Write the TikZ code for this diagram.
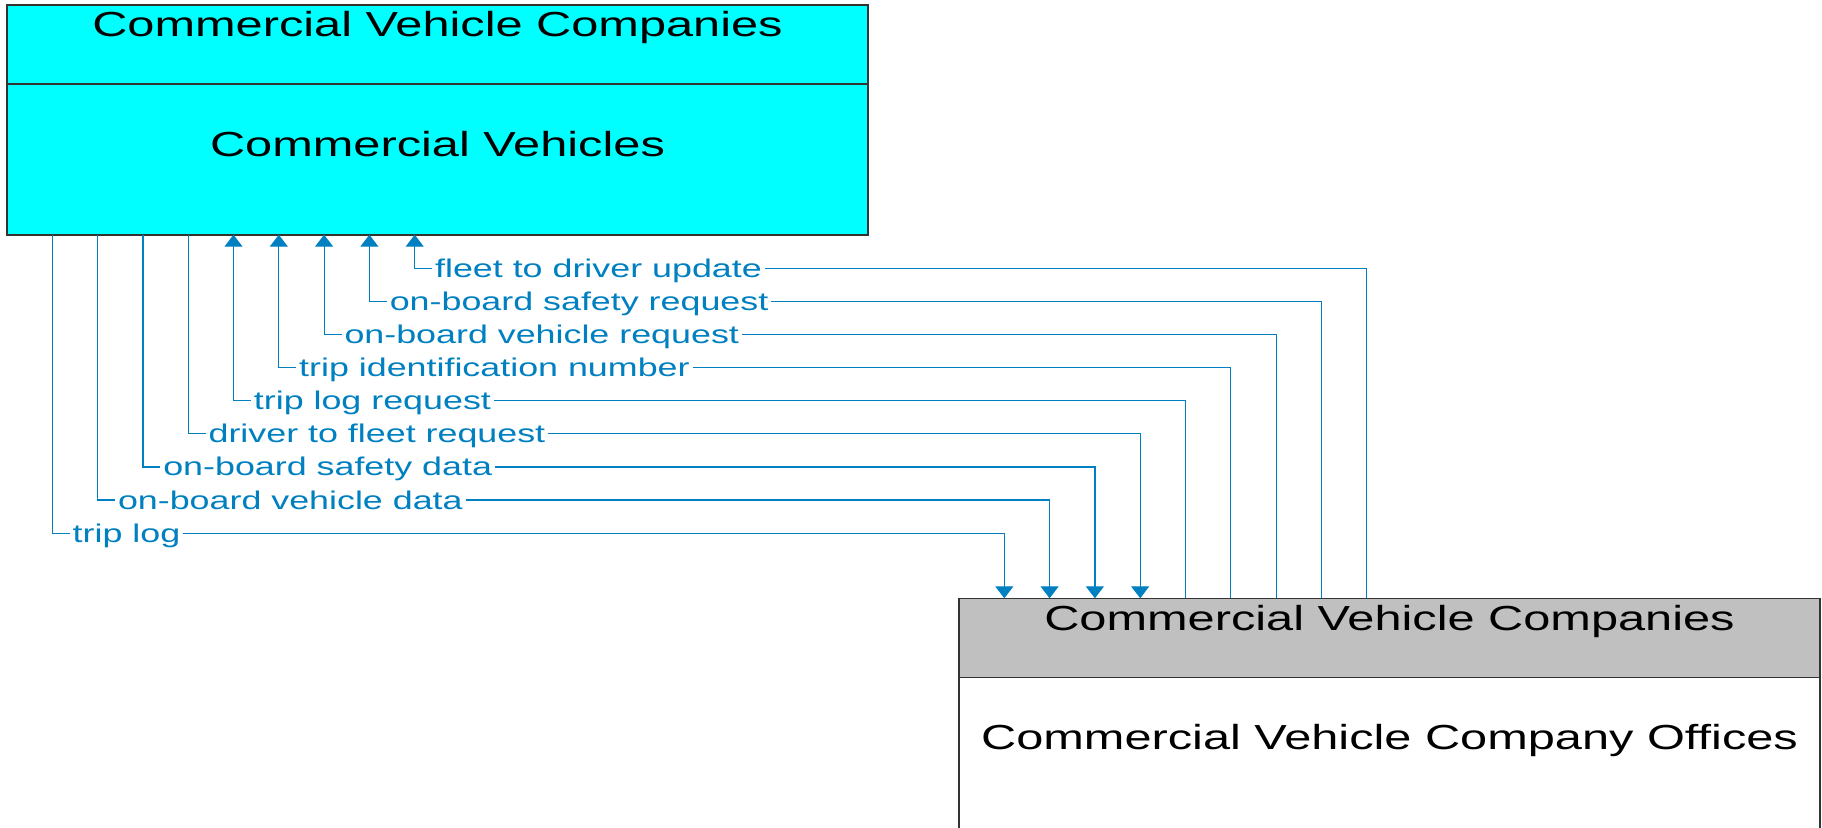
\documentclass[tikz,border=0pt]{standalone}
\usepackage{fontspec}
\newfontfamily\cvfont[FakeStretch=1.4]{Liberation Sans}
\usepackage{tikz}
\usetikzlibrary{arrows.meta, positioning, calc}
\definecolor{cvcyan}{RGB}{0,255,255}
\definecolor{hdrgray}{RGB}{192,192,192}
\definecolor{flowblue}{RGB}{0,128,192}

\begin{document}
\begin{tikzpicture}[
  x=0.5pt, y=-0.5pt,
  ebox/.style={draw=black!80, line width=0.8pt, minimum width=430.5pt, inner sep=0pt, outer sep=0pt},
  ehead/.style={ebox, minimum height=39.5pt},
  ebody/.style={ebox, minimum height=75.5pt},
  etitle/.style={font=\cvfont\fontsize{17.4}{20}\selectfont, inner sep=0pt, anchor=base},
  flowlbl/.style={font=\cvfont\fontsize{12.8}{15}\selectfont, text=flowblue, fill=white, inner xsep=1.5pt, inner ysep=1pt, anchor=base west},
  flow/.style={draw=flowblue, line width=0.6pt},
  upflow/.style={flow, {Triangle[width=9pt, length=6pt]}-},
  downflow/.style={flow, -{Triangle[width=9pt, length=6pt]}}
]
  \useasboundingbox (0,0) rectangle (1822,827);

  % terminator: vehicles
  \node[ehead, fill=cvcyan, anchor=north west] (cvhead) at (7,4.7) {};
  \node[ebody, fill=cvcyan, below=0pt of cvhead] (cv) {};
  \node[etitle] (cvheadtxt) at ($(cvhead.north)+(0,32)$) {Commercial Vehicle Companies};
  \node[etitle] (cvtxt) at ($(cv.north)+(0,72.4)$) {Commercial Vehicles};

  % terminator: company offices
  \node[ehead, fill=hdrgray, anchor=north west] (cvohead) at (959,598.3) {};
  \node[ebody, fill=white, below=0pt of cvohead, minimum height=76pt] (cvo) {};
  \node[etitle] (cvoheadtxt) at ($(cvohead.north)+(0,32.4)$) {Commercial Vehicle Companies};
  \node[etitle] (cvotxt) at ($(cvo.north)+(0,72.3)$) {Commercial Vehicle Company Offices};

  % flows
  \foreach \row/\lbl/\dir in {0/fleet to driver update/upflow,
                             1/on-board safety request/upflow,
                             2/on-board vehicle request/upflow,
                             3/trip identification number/upflow,
                             4/trip log request/upflow,
                             5/driver to fleet request/downflow,
                             6/on-board safety data/downflow,
                             7/on-board vehicle data/downflow,
                             8/trip log/downflow}{
    \pgfmathsetmacro\colx{45.3*(9-\row)}
    \pgfmathsetmacro\rowy{268.3+33.1*\row}
    \coordinate (t\row) at ($(cv.south west)+(\colx,0)$);
    \coordinate (b\row) at ($(cvohead.north west)+(\colx,0)$);
    \draw[\dir] (t\row) |- (b\row |- 0,\rowy) -- (b\row);
    \node[flowlbl] (lbl\row) at ($(t\row |- 0,\rowy)+(17,9)$) {\lbl};
  }
\end{tikzpicture}
\end{document}
